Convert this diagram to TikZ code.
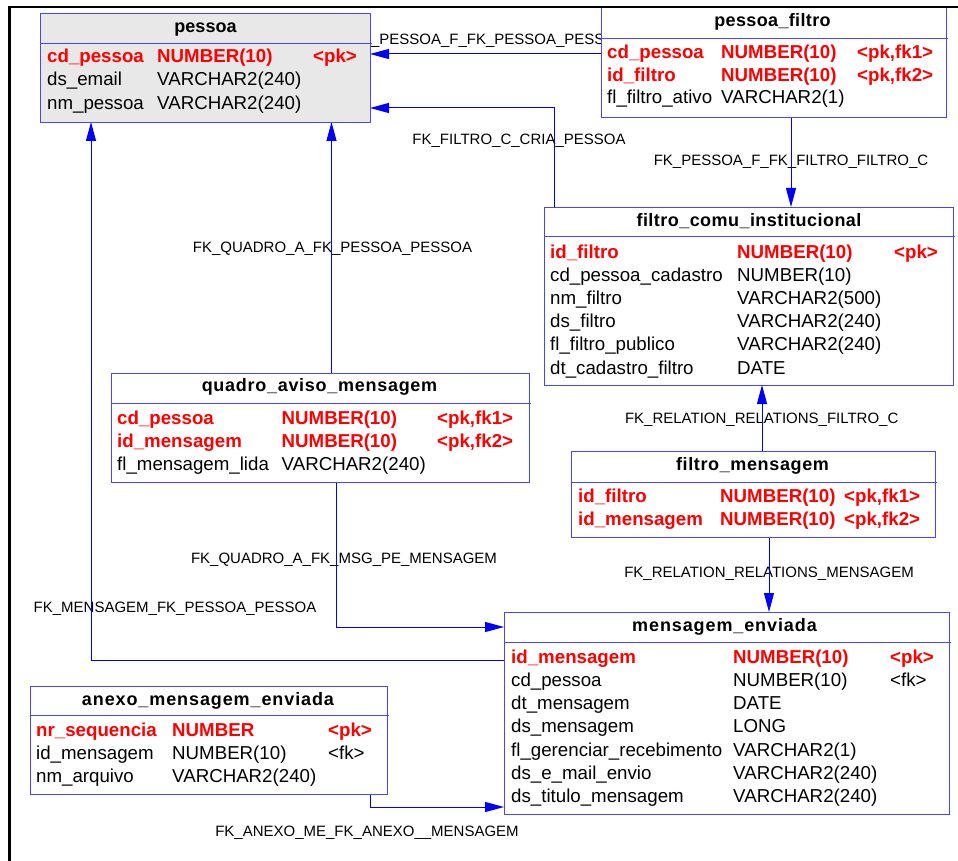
\documentclass[tikz,border=0pt]{standalone}
\usepackage{fontspec}
\setmainfont{Liberation Sans}
\usetikzlibrary{arrows.meta}
\pgfdeclarelayer{conn}
\pgfsetlayers{conn,main}

\definecolor{fkblue}{RGB}{0,0,255}
\definecolor{boxblue}{RGB}{70,70,255}
\definecolor{pkred}{RGB}{255,0,0}
\definecolor{entgray}{RGB}{232,232,232}

\newcommand\bodyfont{\fontsize{18.7}{20}\selectfont}
\newcommand\hdrfont{\fontsize{18}{20}\selectfont\bfseries}
\newcommand\lblfont{\fontsize{15}{17}\selectfont}

% one table row: style, name prefix, x1, x2, x3, baseline, column texts
\newcommand\rowthree[9]{%
  \node[#1] (#2-a) at (#3,-#6) {#7};
  \node[#1] (#2-b) at (#4,-#6) {#8};
  \node[#1] (#2-c) at (#5,-#6) {#9};}
% rule under a table title
\newcommand\titlerule[2]{%
  \draw[boxblue, line width=0.9pt] ([yshift=-#2]#1.north west) -- ([xshift=2,yshift=-#2]#1.north east);}

\tikzset{
  tbl/.style={draw=boxblue, line width=0.9pt, fill=white, rectangle,
    anchor=north west, inner sep=0pt, outer sep=0pt},
  cell/.style={anchor=base west, inner sep=0pt, font=\bodyfont, text=black},
  pkcell/.style={anchor=base west, inner sep=0pt, font=\bodyfont\bfseries, text=pkred},
  hdr/.style={anchor=base, inner sep=0pt, font=\hdrfont},
  fklabel/.style={anchor=base, inner sep=0pt, font=\lblfont, text=black},
  fk/.style={draw=fkblue, line width=1pt, -{Triangle[length=19pt,width=10pt]}},
}

\begin{document}
\begin{tikzpicture}[x=1pt,y=1pt]
\useasboundingbox (0,0) rectangle (958,-861);

% ---------- tables ----------
\node[tbl, fill=entgray, minimum width=330, minimum height=109] (pessoa) at (40,-13) {};
\titlerule{pessoa}{30}
\node[hdr] (pessoa-h) at (205.5,-33) {pessoa};
\rowthree{pkcell}{pessoa-1}{47}{157}{313}{63}{cd\_pessoa}{NUMBER(10)}{<pk>}
\node[cell] (pessoa-2a) at (47,-86) {ds\_email};
\node[cell] (pessoa-2b) at (157,-86) {VARCHAR2(240)};
\node[cell] (pessoa-3a) at (47,-109.5) {nm\_pessoa};
\node[cell] (pessoa-3b) at (157,-109.5) {VARCHAR2(240)};

\node[tbl, minimum width=345, minimum height=110] (pfiltro) at (601,-7) {};
\titlerule{pfiltro}{31}
\node[hdr] (pfiltro-h) at (772.5,-27) {\addfontfeature{LetterSpace=2}pessoa\_filtro};
\rowthree{pkcell}{pfiltro-1}{607}{721}{857}{58.5}{cd\_pessoa}{NUMBER(10)}{<pk,fk1>}
\rowthree{pkcell}{pfiltro-2}{607}{721}{857}{81.5}{id\_filtro}{NUMBER(10)}{<pk,fk2>}
\node[cell] (pfiltro-3a) at (607,-104) {fl\_filtro\_ativo};
\node[cell] (pfiltro-3b) at (721,-104) {VARCHAR2(1)};

\node[tbl, minimum width=409, minimum height=178] (filtro) at (544,-207) {};
\titlerule{filtro}{29}
\node[hdr] (filtro-h) at (749,-226.5) {\addfontfeature{LetterSpace=2.5}filtro\_comu\_institucional};
\rowthree{pkcell}{filtro-1}{550}{737}{894}{258}{id\_filtro}{NUMBER(10)}{<pk>}
\node[cell] (filtro-2a) at (550,-281) {cd\_pessoa\_cadastro};
\node[cell] (filtro-2b) at (737,-281) {NUMBER(10)};
\node[cell] (filtro-3a) at (550,-304.5) {nm\_filtro};
\node[cell] (filtro-3b) at (737,-304.5) {VARCHAR2(500)};
\node[cell] (filtro-4a) at (550,-327.5) {ds\_filtro};
\node[cell] (filtro-4b) at (737,-327.5) {VARCHAR2(240)};
\node[cell] (filtro-5a) at (550,-350.5) {fl\_filtro\_publico};
\node[cell] (filtro-5b) at (737,-350.5) {VARCHAR2(240)};
\node[cell] (filtro-6a) at (550,-374) {dt\_cadastro\_filtro};
\node[cell] (filtro-6b) at (737,-374) {DATE};

\node[tbl, minimum width=418, minimum height=109] (quadro) at (111,-373) {};
\titlerule{quadro}{30}
\node[hdr] (quadro-h) at (319.5,-391.5) {\addfontfeature{LetterSpace=4}quadro\_aviso\_mensagem};
\rowthree{pkcell}{quadro-1}{117}{281.5}{437}{424}{cd\_pessoa}{NUMBER(10)}{<pk,fk1>}
\rowthree{pkcell}{quadro-2}{117}{281.5}{437}{447}{id\_mensagem}{NUMBER(10)}{<pk,fk2>}
\node[cell] (quadro-3a) at (117,-470) {fl\_mensagem\_lida};
\node[cell] (quadro-3b) at (281.5,-470) {VARCHAR2(240)};

\node[tbl, minimum width=364, minimum height=86] (fmsg) at (571,-451) {};
\titlerule{fmsg}{31}
\node[hdr] (fmsg-h) at (752.5,-470) {\addfontfeature{LetterSpace=3.5}filtro\_mensagem};
\rowthree{pkcell}{fmsg-1}{578}{720}{844}{502.5}{id\_filtro}{NUMBER(10)}{<pk,fk1>}
\rowthree{pkcell}{fmsg-2}{578}{720}{844}{525.5}{id\_mensagem}{NUMBER(10)}{<pk,fk2>}

\node[tbl, minimum width=445, minimum height=202] (menv) at (504,-612) {};
\titlerule{menv}{30}
\node[hdr] (menv-h) at (724.5,-631.5) {\addfontfeature{LetterSpace=5}mensagem\_enviada};
\rowthree{pkcell}{menv-1}{511}{733}{890}{663}{id\_mensagem}{NUMBER(10)}{<pk>}
\rowthree{cell}{menv-2}{511}{733}{890}{686}{cd\_pessoa}{NUMBER(10)}{<fk>}
\node[cell] (menv-3a) at (511,-709.5) {dt\_mensagem};
\node[cell] (menv-3b) at (733,-709.5) {DATE};
\node[cell] (menv-4a) at (511,-732.5) {ds\_mensagem};
\node[cell] (menv-4b) at (733,-732.5) {LONG};
\node[cell] (menv-5a) at (511,-756) {fl\_gerenciar\_recebimento};
\node[cell] (menv-5b) at (733,-756) {VARCHAR2(1)};
\node[cell] (menv-6a) at (511,-779) {ds\_e\_mail\_envio};
\node[cell] (menv-6b) at (733,-779) {VARCHAR2(240)};
\node[cell] (menv-7a) at (511,-802.5) {ds\_titulo\_mensagem};
\node[cell] (menv-7b) at (733,-802.5) {VARCHAR2(240)};

\node[tbl, minimum width=357, minimum height=108] (anexo) at (30,-686) {};
\titlerule{anexo}{29}
\node[hdr] (anexo-h) at (208,-705) {\addfontfeature{LetterSpace=5}anexo\_mensagem\_enviada};
\rowthree{pkcell}{anexo-1}{36}{172}{328}{736}{nr\_sequencia}{NUMBER}{<pk>}
\rowthree{cell}{anexo-2}{36}{172}{328}{759}{id\_mensagem}{NUMBER(10)}{<fk>}
\node[cell] (anexo-3a) at (36,-782.5) {nm\_arquivo};
\node[cell] (anexo-3b) at (172,-782.5) {VARCHAR2(240)};

% ---------- bend and end points of the references ----------
\coordinate (c1) at ([yshift=-41]pessoa.north east);
\coordinate (c2) at ([yshift=-95]pessoa.north east);
\coordinate (c2s) at ([xshift=10]filtro.north west);
\coordinate (c3) at ([xshift=190]pfiltro.south west);
\coordinate (c4) at ([xshift=220.5]quadro.north west);
\coordinate (c5) at ([xshift=191]fmsg.north west);
\coordinate (c6) at ([xshift=198]fmsg.south west);
\coordinate (c7s) at ([xshift=225.5]quadro.south west);
\coordinate (c7) at ([yshift=-15]menv.north west);
\coordinate (c8s) at ([yshift=-48.5]menv.north west);
\coordinate (c8) at ([xshift=51]pessoa.south west);
\coordinate (c9s) at ([xshift=-17]anexo.south east);
\coordinate (c9) at ([yshift=7]menv.south west);

% ---------- references, behind the tables ----------
\begin{pgfonlayer}{conn}
\node[fklabel] (l1) at (489,-45) {FK\_PESSOA\_F\_FK\_PESSOA\_PESSOA};
\node[fklabel] (l2) at (519,-145) {FK\_FILTRO\_C\_CRIA\_PESSOA};
\node[fklabel] (l3) at (791,-166) {FK\_PESSOA\_F\_FK\_FILTRO\_FILTRO\_C};
\node[fklabel] (l4) at (332.5,-252.5) {FK\_QUADRO\_A\_FK\_PESSOA\_PESSOA};
\node[fklabel] (l5) at (761.7,-423) {FK\_RELATION\_RELATIONS\_FILTRO\_C};
\node[fklabel] (l6) at (769,-577) {FK\_RELATION\_RELATIONS\_MENSAGEM};
\node[fklabel] (l7) at (344,-563) {FK\_QUADRO\_A\_FK\_MSG\_PE\_MENSAGEM};
\node[fklabel] (l8) at (175,-612) {FK\_MENSAGEM\_FK\_PESSOA\_PESSOA};
\node[fklabel] (l9) at (367,-836.5) {FK\_ANEXO\_ME\_FK\_ANEXO\_\_MENSAGEM};

\draw[fk] (c1 -| pfiltro.west) -- (c1);
\draw[fk] (c2s) |- (c2);
\draw[fk] (c3) -- (c3 |- filtro.north);
\draw[fk] (c4) -- (c4 |- pessoa.south);
\draw[fk] (c5) -- (c5 |- filtro.south);
\draw[fk] (c6) -- (c6 |- menv.north);
\draw[fk] (c7s) |- (c7);
\draw[fk] (c8s) -| (c8);
\draw[fk] (c9s) |- (c9);
\end{pgfonlayer}

% ---------- page frame ----------
\draw[black, line width=2.6pt] (9.5,-870) -- (9.5,-7) -- (970,-7);
\end{tikzpicture}
\end{document}
